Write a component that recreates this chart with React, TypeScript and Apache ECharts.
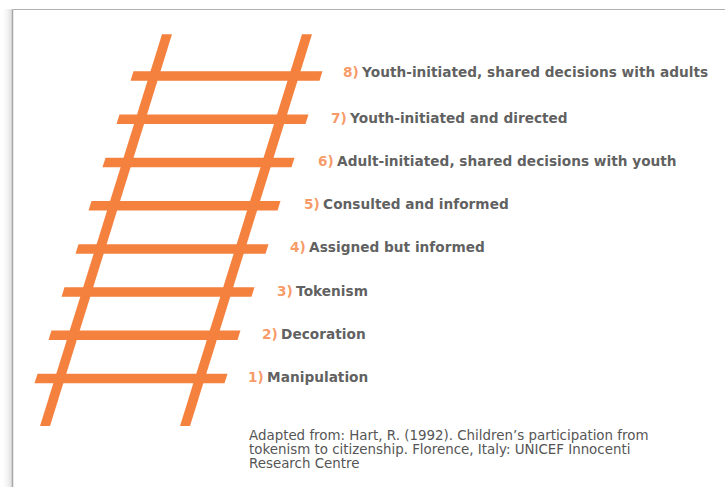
import React, { useEffect, useRef } from "react";
import * as echarts from "echarts";

// Rung levels (1 = bottom) and their texts
const levels = [1, 2, 3, 4, 5, 6, 7, 8];
const numbers = ["1)", "2)", "3)", "4)", "5)", "6)", "7)", "8)"];
const labels = [
  "Manipulation",
  "Decoration",
  "Tokenism",
  "Assigned but informed",
  "Consulted and informed",
  "Adult-initiated, shared decisions with youth",
  "Youth-initiated and directed",
  "Youth-initiated, shared decisions with adults",
];
// horizontal extent of each rung (x-axis units) and where its label starts
const rungLeft = [36, 50, 63, 77, 90, 104, 118, 132];
const rungRight = [226, 239, 253, 267, 279, 293, 307, 321];
const labelStart = [248, 262, 277, 290, 304, 318, 331, 343];
// rails: [xBottom, levelBottom, xTop, levelTop]
const rails = [
  [45, -0.1, 167, 8.97],
  [185, -0.1, 307, 8.97],
];
const footnote =
  "Adapted from: Hart, R. (1992). Children’s participation from\ntokenism to citizenship. Florence, Italy: UNICEF Innocenti\nResearch Centre";

const ORANGE = "#F5813F";
const TEXT = "#353535";

export default function App() {
  const ref = useRef<HTMLDivElement>(null);
  useEffect(() => {
    if (!ref.current) return;
    const chart = echarts.init(ref.current, null, { renderer: "svg" });
    const railData = rails.map((r) => r);
    const rungData = levels.map((l, i) => [rungLeft[i], rungRight[i], l]);
    const labelData = levels.map((l, i) => ({
      value: [labelStart[i], l],
      label: {
        formatter: `{n|${numbers[i]}} {t|${labels[i]}}`,
        offset: [0, i === 7 ? -4 : -1.5],
      },
    }));
    chart.setOption({
      animation: false,
      backgroundColor: "#ffffff",
      grid: { left: 0, right: 0, top: 32.9, bottom: 56.66 },
      xAxis: { type: "value", min: 0, max: 725, show: false },
      yAxis: { type: "value", min: -0.2, max: 9, show: false },
      graphic: [
        {
          type: "rect",
          shape: { x: 0, y: 9, width: 12, height: 478 },
          style: {
            fill: new echarts.graphic.LinearGradient(0, 0, 1, 0, [
              { offset: 0, color: "rgba(255,255,255,0)" },
              { offset: 1, color: "rgba(200,200,200,0.6)" },
            ]),
          },
          silent: true,
        },
        {
          type: "line",
          shape: { x1: 12.5, y1: 9.5, x2: 12.5, y2: 487 },
          style: { stroke: "#a8a8a8", lineWidth: 1.5 },
          silent: true,
        },
        {
          type: "line",
          shape: { x1: 12.5, y1: 9.5, x2: 725, y2: 9.5 },
          style: { stroke: "#b0b0b0", lineWidth: 1.2 },
          silent: true,
        },
        {
          type: "text",
          left: 249,
          top: 428,
          style: {
            text: footnote,
            font: "13.4px 'DejaVu Sans'",
            fill: "#555555",
            lineHeight: 14,
          },
        },
      ],
      series: [
        {
          type: "custom",
          clip: false,
          data: railData,
          renderItem: (params: any, api: any) => {
            const p0 = api.coord([api.value(0), api.value(1)]);
            const p1 = api.coord([api.value(2), api.value(3)]);
            const h = 5;
            return {
              type: "polygon",
              shape: {
                points: [
                  [p0[0] - h, p0[1]],
                  [p0[0] + h, p0[1]],
                  [p1[0] + h, p1[1]],
                  [p1[0] - h, p1[1]],
                ],
              },
              style: { fill: ORANGE },
            };
          },
        },
        {
          type: "custom",
          clip: false,
          data: rungData,
          renderItem: (params: any, api: any) => {
            const a = api.coord([api.value(0), api.value(2)]);
            const b = api.coord([api.value(1), api.value(2)]);
            const t = 4.75;
            return {
              type: "polygon",
              shape: {
                points: [
                  [a[0] + 1.5, a[1] - t],
                  [b[0] + 1.5, b[1] - t],
                  [b[0] - 1.5, b[1] + t],
                  [a[0] - 1.5, a[1] + t],
                ],
              },
              style: { fill: ORANGE },
            };
          },
        },
        {
          type: "scatter",
          symbolSize: 0,
          data: labelData,
          label: {
            show: true,
            position: "right",
            distance: 0,
            rich: {
              n: { color: ORANGE, fontFamily: "DejaVu Sans", fontWeight: "bold", fontSize: 13.7 },
              t: { color: TEXT, fontFamily: "DejaVu Sans", fontWeight: "bold", fontSize: 13.7 },
            },
          },
        },
      ],
    });
    return () => chart.dispose();
  }, []);
  return (
    <div
      ref={ref}
      style={{ position: "fixed", left: 0, top: 0, width: 725, height: 487 }}
    />
  );
}
